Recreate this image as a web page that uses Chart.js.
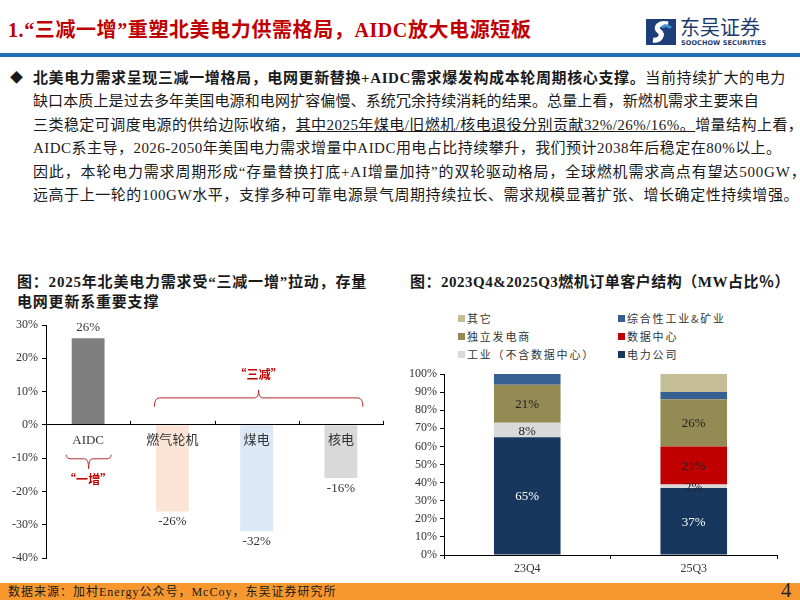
<!DOCTYPE html>
<html>
<head>
<meta charset="utf-8">
<script src="https://cdn.jsdelivr.net/npm/chart.js@4.4.1/dist/chart.umd.min.js"></script>
<style>
  body { margin: 0; width: 800px; height: 600px; position: relative; overflow: hidden; background: #fff;
         font-family: "Liberation Serif", "Noto Sans CJK SC", serif; color: #1a1a1a; }
  .abs { position: absolute; white-space: nowrap; }
  .title { left: 8px; top: 14px; font-size: 20px; font-weight: bold; color: #c00000; letter-spacing: 0.6px; }
  .rule { left: 0; top: 53px; width: 800px; height: 4px; background: #1f72b8; }
  .brand { left: 680px; top: 17px; font-family: "Noto Sans CJK SC", sans-serif; font-size: 20px; line-height: 20px; color: #1d3a6e; }
  .brand-en { left: 681px; top: 39px; font-family: "DejaVu Sans", sans-serif; font-size: 6.5px; line-height: 8px; font-weight: bold; color: #1d3a6e; letter-spacing: 0.1px; }
  .line { left: 33px; font-size: 15px; line-height: 20px; }
  .bullet { left: 10px; top: 68px; font-size: 13px; line-height: 20px; }
  .ctitle { font-size: 15px; font-weight: bold; line-height: 20px; letter-spacing: 0.8px; }
  .legend { font-size: 11px; color: #333; letter-spacing: 1.8px; line-height: 14px; font-family: "Noto Sans CJK SC", sans-serif; }
  .legend i { display: inline-block; width: 7px; height: 7px; margin-right: 2px; vertical-align: 1px; }
  .footer { left: 0; top: 583px; width: 800px; height: 17px; background: #f7982f; }
  .src { left: 8px; top: 584px; font-size: 12px; line-height: 16px; letter-spacing: 1px; }
  .page { left: 781px; top: 580px; font-size: 21px; line-height: 20px; color: #222; }
  canvas { position: absolute; }
</style>
</head>
<body>

<div class="abs title">1.“三减一增”重塑北美电力供需格局，AIDC放大电源短板</div>
<svg class="abs" style="left:646px;top:19px" width="30" height="26" viewBox="0 0 30 26">
  <rect width="30" height="26" fill="#1d3e78"/>
  <path d="M22 5 C14 3 8 8 13 12 C18 16 14 22 7 21" stroke="#fff" stroke-width="5" fill="none"/>
  <path d="M25 9 C22 6 17 6 17 9" stroke="#3d8fd1" stroke-width="3" fill="none"/>
</svg>
<div class="abs brand">东吴证券</div>
<div class="abs brand-en">SOOCHOW SECURITIES</div>
<div class="abs rule"></div>

<div class="abs bullet">◆</div>
<div class="abs line" style="top:68px;letter-spacing:0.62px"><b>北美电力需求呈现三减一增格局，电网更新替换+AIDC需求爆发构成本轮周期核心支撑。</b>当前持续扩大的电力</div>
<div class="abs line" style="top:91px;letter-spacing:0.12px">缺口本质上是过去多年美国电源和电网扩容偏慢、系统冗余持续消耗的结果。总量上看，新燃机需求主要来自</div>
<div class="abs line" style="top:115px;letter-spacing:0.45px">三类稳定可调度电源的供给边际收缩，<u>其中2025年煤电/旧燃机/核电退役分别贡献32%/26%/16%。</u>增量结构上看，</div>
<div class="abs line" style="top:138px;letter-spacing:0.47px">AIDC系主导，2026-2050年美国电力需求增量中AIDC用电占比持续攀升，我们预计2038年后稳定在80%以上。</div>
<div class="abs line" style="top:162px;letter-spacing:0.82px">因此，本轮电力需求周期形成“存量替换打底+AI增量加持”的双轮驱动格局，全球燃机需求高点有望达500GW，</div>
<div class="abs line" style="top:185px;letter-spacing:0.56px">远高于上一轮的100GW水平，支撑多种可靠电源景气周期持续拉长、需求规模显著扩张、增长确定性持续增强。</div>

<div class="abs ctitle" style="left:17px;top:272px">图：2025年北美电力需求受“三减一增”拉动，存量</div>
<div class="abs ctitle" style="left:17px;top:292px">电网更新系重要支撑</div>
<div class="abs ctitle" style="left:410px;top:272px;letter-spacing:0.5px">图：2023Q4&amp;2025Q3燃机订单客户结构（MW占比％）</div>

<div id="legend"></div>

<canvas id="leftChart" width="400" height="260" style="left:0;top:310px"></canvas>
<canvas id="rightChart" width="400" height="220" style="left:400px;top:360px"></canvas>

<div class="abs footer"></div>
<div class="abs src">数据来源：加村Energy公众号，McCoy，东吴证券研究所</div>
<div class="abs page">4</div>

<script>
// ---------- data ----------
const leftCategories = ['AIDC', '燃气轮机', '煤电', '核电'];
const leftValues = [26, -26, -32, -16];
const leftColors = ['#7f7f7f', '#fbe4d5', '#dce8f6', '#d9d9d9'];

const rightCategories = ['23Q4', '25Q3'];
const seriesNames = ['电力公司', '工业（不含数据中心）', '数据中心', '独立发电商', '综合性工业&矿业', '其它'];
const seriesColors = ['#17375e', '#d9d9d9', '#c00000', '#948a54', '#376092', '#c4bd97'];
const utilityShare = [65, 37];
const industryShare = [8, 2];
const dataCenterShare = [0, 21];
const ippShare = [21, 26];
const miningShare = [6, 4];
const otherShare = [0, 10];
const showLabel = [true, true, true, true, false, false];
const labelColors = ['#ffffff', '#222222', '#222222', '#222222', '#222222', '#222222'];

const serif = '"Liberation Serif", "Noto Sans CJK SC", serif';
Chart.defaults.font.family = serif;
Chart.defaults.color = '#222';

// ---------- left chart ----------
const leftLabelPlugin = {
    id: 'leftLabels',
    afterDatasetsDraw(chart) {
        const ctx = chart.ctx;
        const meta = chart.getDatasetMeta(0);
        ctx.save();
        ctx.font = '13px ' + serif;
        ctx.fillStyle = '#333';
        ctx.textAlign = 'center';
        ctx.textBaseline = 'middle';
        meta.data.forEach((bar, i) => {
            const v = leftValues[i];
            const y = v >= 0 ? bar.y - 11 : bar.y + 10;
            ctx.fillText(v + '%', bar.x, y);
        });
        ctx.restore();
    },
    afterDraw(chart) {
        const ctx = chart.ctx;
        const xs = chart.scales.x;
        const ys = chart.scales.y;
        const axisY = ys.getPixelForValue(0);
        ctx.save();
        // category tick marks pointing up
        ctx.strokeStyle = '#000';
        ctx.lineWidth = 1;
        for (let i = 1; i <= leftCategories.length; i++) {
            const x = Math.round(xs.getPixelForValue(i - 0.5)) + 0.5;
            ctx.beginPath();
            ctx.moveTo(x, axisY);
            ctx.lineTo(x, axisY - 4);
            ctx.stroke();
        }
        // braces
        ctx.strokeStyle = '#b52a2a';
        function brace(x1, x2, yEnd, yMid, yTip) {
            const cx = (x1 + x2) / 2;
            ctx.beginPath();
            ctx.moveTo(x1, yEnd);
            ctx.quadraticCurveTo(x1, yMid, x1 + 5, yMid);
            ctx.lineTo(cx - 4, yMid);
            ctx.quadraticCurveTo(cx, yMid, cx, yTip);
            ctx.quadraticCurveTo(cx, yMid, cx + 4, yMid);
            ctx.lineTo(x2 - 5, yMid);
            ctx.quadraticCurveTo(x2, yMid, x2, yEnd);
            ctx.stroke();
        }
        brace(xs.getPixelForValue(1) - 18, xs.getPixelForValue(3) + 22,
              ys.getPixelForValue(5.4), ys.getPixelForValue(8.1), ys.getPixelForValue(10.5));
        brace(xs.getPixelForValue(0) - 22, xs.getPixelForValue(0) + 23,
              ys.getPixelForValue(-9), ys.getPixelForValue(-10.2), ys.getPixelForValue(-13.2));
        ctx.fillStyle = '#c00000';
        ctx.font = 'bold 12px "Noto Sans CJK SC", sans-serif';
        ctx.textAlign = 'center';
        ctx.textBaseline = 'middle';
        ctx.fillText('“三减”', (xs.getPixelForValue(1) - 18 + xs.getPixelForValue(3) + 22) / 2, ys.getPixelForValue(15));
        ctx.fillText('“一增”', xs.getPixelForValue(0), ys.getPixelForValue(-16.3));
        ctx.restore();
    }
};

new Chart(document.getElementById('leftChart'), {
    type: 'bar',
    data: {
        labels: leftCategories,
        datasets: [{
            data: leftValues,
            backgroundColor: leftColors,
            borderWidth: 0,
            categoryPercentage: 1,
            barPercentage: 0.39
        }]
    },
    options: {
        responsive: false,
        animation: false,
        devicePixelRatio: 1,
        layout: { padding: { top: 15, bottom: 12, right: 17 } },
        plugins: { legend: { display: false }, tooltip: { enabled: false } },
        scales: {
            x: {
                position: { y: 0 },
                grid: { display: false, drawTicks: false },
                border: { color: '#000', z: 1 },
                ticks: { z: 1, padding: 8, font: { size: 13, family: serif }, color: '#333' }
            },
            y: {
                min: -40,
                max: 30,
                afterFit(scale) { scale.width = 46; },
                grid: { drawOnChartArea: false, drawTicks: true, tickLength: 4, color: '#000' },
                border: { color: '#000', z: 1 },
                ticks: {
                    stepSize: 10,
                    padding: 4,
                    font: { size: 12, family: serif },
                    color: '#333',
                    callback: v => v + '%'
                }
            }
        }
    },
    plugins: [leftLabelPlugin]
});

// ---------- right chart ----------
const shareSeries = [utilityShare, industryShare, dataCenterShare, ippShare, miningShare, otherShare];

const stackLabelPlugin = {
    id: 'stackLabels',
    afterDatasetsDraw(chart) {
        const ctx = chart.ctx;
        ctx.save();
        ctx.font = '13px ' + serif;
        ctx.textAlign = 'center';
        ctx.textBaseline = 'middle';
        chart.data.datasets.forEach((ds, di) => {
            if (!showLabel[di]) return;
            const meta = chart.getDatasetMeta(di);
            meta.data.forEach((bar, i) => {
                const v = ds.data[i];
                if (!v) return;
                ctx.fillStyle = labelColors[di];
                ctx.fillText(v + '%', bar.x, (bar.y + bar.base) / 2 + 1);
            });
        });
        ctx.restore();
    }
};

new Chart(document.getElementById('rightChart'), {
    type: 'bar',
    data: {
        labels: rightCategories,
        datasets: shareSeries.map((values, i) => ({
            label: seriesNames[i],
            data: values,
            backgroundColor: seriesColors[i],
            borderWidth: 0,
            categoryPercentage: 1,
            barPercentage: 0.4
        }))
    },
    options: {
        responsive: false,
        animation: false,
        devicePixelRatio: 1,
        layout: { padding: { top: 14, bottom: 0, right: 23 } },
        plugins: { legend: { display: false }, tooltip: { enabled: false } },
        scales: {
            x: {
                stacked: true,
                afterFit(scale) { scale.height = 25; },
                grid: { drawOnChartArea: false, offset: true, drawTicks: true, tickLength: 4, color: '#000' },
                border: { color: '#000' },
                ticks: { padding: 3, font: { size: 12, family: serif }, color: '#333' }
            },
            y: {
                stacked: true,
                min: 0,
                max: 100,
                afterFit(scale) { scale.width = 44; },
                grid: { drawOnChartArea: false, drawTicks: true, tickLength: 4, color: '#000' },
                border: { color: '#000' },
                ticks: {
                    stepSize: 10,
                    padding: 3,
                    font: { size: 12, family: serif },
                    color: '#333',
                    callback: v => v + '%'
                }
            }
        }
    },
    plugins: [stackLabelPlugin]
});

// legend: two columns, series listed from top of the stack
const legendBox = document.getElementById('legend');
const legendOrder = seriesNames.map((n, i) => i).reverse();
legendOrder.forEach((si, k) => {
    const item = document.createElement('div');
    item.className = 'abs legend';
    item.style.left = (k % 2 === 0 ? 458 : 618) + 'px';
    item.style.top = (311 + Math.floor(k / 2) * 18) + 'px';
    item.innerHTML = '<i style="background:' + seriesColors[si] + '"></i>' + seriesNames[si];
    legendBox.appendChild(item);
});
</script>
</body>
</html>
